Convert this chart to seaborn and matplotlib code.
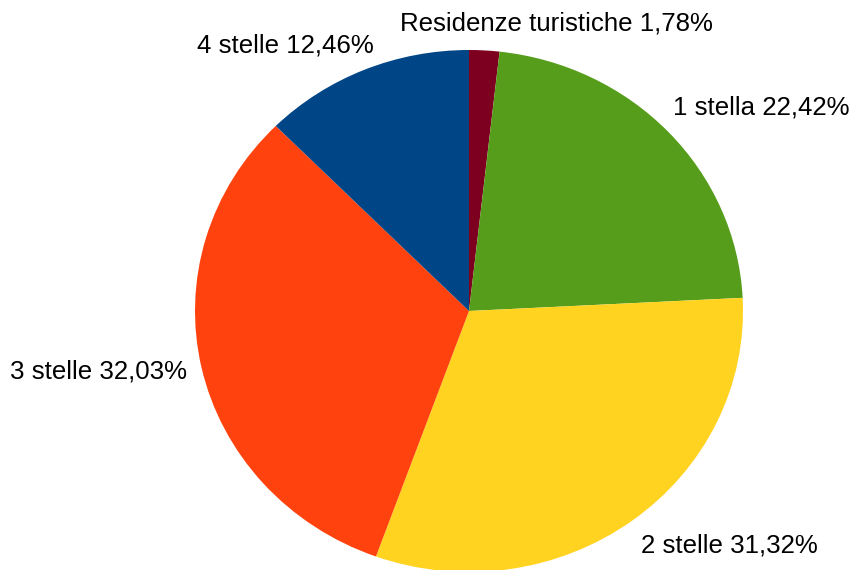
"""
Grafico a torta: distribuzione delle strutture ricettive per categoria.
"""

import matplotlib
matplotlib.use("Agg")
import matplotlib.pyplot as plt
import seaborn as sns

categorie = ["Residenze turistiche", "1 stella", "2 stelle", "3 stelle", "4 stelle"]
percentuali = [1.78, 22.42, 31.32, 32.03, 12.46]
colori = ["#7E0021", "#579D1C", "#FFD320", "#FF420E", "#004586"]

# posizione (pixel) del centro di ogni etichetta
pos_etichette = [(556, 24), (761, 107), (729, 546), (99, 372), (285, 46)]

W, H = 861, 570

sns.set_theme(style="white")
plt.rcParams["font.family"] = ["Liberation Sans", "DejaVu Sans"]

fig = plt.figure(figsize=(W / 100, H / 100), dpi=100)
# ellisse: centro (469, 311), raggi 274 x 261 pixel
cx, cy, rx, ry = 469, 311, 274, 261
ax = fig.add_axes([(cx - rx) / W, (H - cy - ry) / H, 2 * rx / W, 2 * ry / H])

ax.pie(percentuali, colors=colori, startangle=90, counterclock=False,
       wedgeprops={"linewidth": 0})
ax.set_aspect("auto")
ax.set_xlim(-1, 1)
ax.set_ylim(-1, 1)
ax.axis("off")

for cat, val, (px, py) in zip(categorie, percentuali, pos_etichette):
    testo = f"{cat} {val:.2f}%".replace(".", ",")
    fig.text(px / W, 1 - py / H, testo, ha="center", va="center",
             fontsize=18.6, color="black")

fig.savefig("out.png", dpi=100, facecolor="white")
